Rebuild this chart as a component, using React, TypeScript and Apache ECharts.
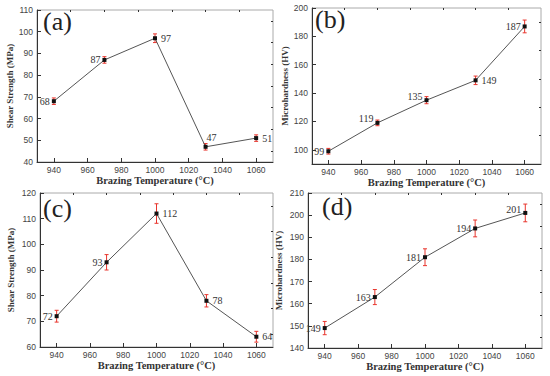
import React, { useEffect, useRef } from "react";
import * as echarts from "echarts";

const temps = [940, 970, 1000, 1030, 1060];
const shearA = [68, 87, 97, 47, 51];
const errA = [1.5, 1.5, 2, 1.5, 1.5];
const hardB = [99, 119, 135, 149, 187];
const errB = [2, 2, 2.5, 3, 4.5];
const shearC = [72, 93, 112, 78, 64];
const errC = [2.3, 3, 3.8, 2.4, 2.1];
const hardD = [149, 163, 181, 194, 201];
const errD = [3, 3.4, 3.8, 3.8, 4];

const xMajor = [940, 960, 980, 1000, 1020, 1040, 1060];
const xMinor = [950, 970, 990, 1010, 1030, 1050];
const yMajorA = [40, 50, 60, 70, 80, 90, 100, 110];
const yMinorA = [45, 55, 65, 75, 85, 95, 105];
const yMajorB = [100, 120, 140, 160, 180, 200];
const yMinorB = [90, 110, 130, 150, 170, 190];
const yMajorC = [60, 70, 80, 90, 100, 110, 120];
const yMinorC = [65, 75, 85, 95, 105, 115];
const yMajorD = [140, 150, 160, 170, 180, 190, 200, 210];
const yMinorD = [145, 155, 165, 175, 185, 195, 205];

const xTitle = "Brazing Temperature (°C)";
const shearTitle = "Shear Strength (MPa)";
const hardTitle = "Microhardness (HV)";
const panelLetters = ["(a)", "(b)", "(c)", "(d)"];

export default function App() {
  const ref = useRef<HTMLDivElement>(null);
  useEffect(() => {
    const chart = echarts.init(ref.current!, null, { renderer: "svg" });

    const panels = [
      { vals: shearA, errs: errA, yMajor: yMajorA, yMinor: yMinorA, yMin: 40, yMax: 110, yName: shearTitle, yGap: 22, xGap: 10,
        grid: { left: 37, top: 10, width: 236, height: 152 },
        pos: [["left", [0, 0]], ["left", [0, 0]], ["right", [0, 0]], ["top", [6, 2]], ["right", [0, 0]]],
        letter: [43, 8] },
      { vals: hardB, errs: errB, yMajor: yMajorB, yMinor: yMinorB, yMin: 90, yMax: 200, yName: hardTitle, yGap: 22, xGap: 10,
        grid: { left: 312, top: 8, width: 229, height: 156 },
        pos: [["left", [0, 0]], ["left", [0, -4]], ["left", [0, -4]], ["right", [0, 0]], ["left", [0, 0]]],
        letter: [315, 6] },
      { vals: shearC, errs: errC, yMajor: yMajorC, yMinor: yMinorC, yMin: 60, yMax: 120, yName: shearTitle, yGap: 25, xGap: 10,
        grid: { left: 40, top: 193, width: 233, height: 154 },
        pos: [["left", [0, 0]], ["left", [0, 0]], ["right", [0, 0]], ["right", [0, 0]], ["right", [0, 0]]],
        letter: [43, 195] },
      { vals: hardD, errs: errD, yMajor: yMajorD, yMinor: yMinorD, yMin: 140, yMax: 210, yName: hardTitle, yGap: 25, xGap: 10,
        grid: { left: 308, top: 193, width: 234, height: 155 },
        pos: [["left", [0, 0]], ["left", [0, 0]], ["left", [0, 0]], ["left", [0, 0]], ["left", [0, -3]]],
        letter: [322, 193] },
    ];

    const grids: any[] = [];
    const xAxes: any[] = [];
    const yAxes: any[] = [];
    const series: any[] = [];
    const graphics: any[] = [];

    const tickLabel = { fontFamily: "Liberation Sans", fontSize: 8.5, color: "#444", formatter: (v: number) => String(v) };
    const nameStyle = { fontFamily: "Liberation Serif", fontWeight: "bold", color: "#333" };

    panels.forEach((p, i) => {
      grids.push({ ...p.grid, show: true, borderColor: "#aaa", borderWidth: 1, backgroundColor: "transparent" });
      xAxes.push({
        type: "value", gridIndex: i, min: 930, max: 1070,
        axisLine: { show: true, lineStyle: { color: "#333", width: 1 } },
        axisTick: { show: true, inside: true, length: 4, customValues: xMajor, lineStyle: { color: "#333" } },
        axisLabel: { customValues: xMajor, margin: 3, ...tickLabel },
        splitLine: { show: false },
        name: xTitle, nameLocation: "middle", nameGap: p.xGap,
        nameTextStyle: { ...nameStyle, fontSize: 10.5, verticalAlign: "top" },
      });
      xAxes.push({
        type: "value", gridIndex: i, min: 930, max: 1070,
        axisLine: { show: false },
        axisTick: { show: true, inside: true, length: 2, customValues: xMinor, lineStyle: { color: "#333" } },
        axisLabel: { show: false },
        splitLine: { show: false },
      });
      yAxes.push({
        type: "value", gridIndex: i, min: p.yMin, max: p.yMax,
        axisLine: { show: true, lineStyle: { color: "#333", width: 1 } },
        axisTick: { show: true, inside: true, length: 4, customValues: p.yMajor, lineStyle: { color: "#333" } },
        axisLabel: { customValues: p.yMajor, margin: 4, ...tickLabel },
        splitLine: { show: false },
        name: p.yName, nameLocation: "middle", nameGap: p.yGap,
        nameTextStyle: { ...nameStyle, fontSize: 9 },
      });
      yAxes.push({
        type: "value", gridIndex: i, min: p.yMin, max: p.yMax,
        axisLine: { show: false },
        axisTick: { show: true, inside: true, length: 2, customValues: p.yMinor, lineStyle: { color: "#333" } },
        axisLabel: { show: false },
        splitLine: { show: false },
      });

      series.push({
        type: "line",
        xAxisIndex: i * 2, yAxisIndex: i * 2,
        data: temps.map((t, k) => ({
          value: [t, p.vals[k]],
          label: { position: p.pos[k][0], offset: p.pos[k][1], distance: p.pos[k][0] === "left" ? 2 : 4 },
        })),
        lineStyle: { color: "#555", width: 1 },
        itemStyle: { color: "#111" },
        symbol: "rect", symbolSize: 4,
        label: {
          show: true, formatter: (d: any) => String(d.value[1]),
          fontFamily: "Liberation Serif", fontSize: 10, color: "#333",
        },
        z: 3,
      });

      series.push({
        type: "custom",
        xAxisIndex: i * 2, yAxisIndex: i * 2,
        data: temps.map((t, k) => [t, p.vals[k] - p.errs[k], p.vals[k] + p.errs[k]]),
        renderItem: (params: any, api: any) => {
          const x = api.value(0);
          const lo = api.coord([x, api.value(1)]);
          const hi = api.coord([x, api.value(2)]);
          const cw = 2;
          const style = { stroke: "#e8342c", lineWidth: 1 };
          return {
            type: "group",
            children: [
              { type: "line", shape: { x1: lo[0], y1: lo[1], x2: hi[0], y2: hi[1] }, style },
              { type: "line", shape: { x1: lo[0] - cw, y1: lo[1], x2: lo[0] + cw, y2: lo[1] }, style },
              { type: "line", shape: { x1: hi[0] - cw, y1: hi[1], x2: hi[0] + cw, y2: hi[1] }, style },
            ],
          };
        },
        z: 2,
      });

      graphics.push({
        type: "text", left: p.letter[0], top: p.letter[1],
        style: { text: panelLetters[i], font: "26px 'Liberation Serif'", fill: "#222" },
      });
    });

    chart.setOption({
      animation: false,
      backgroundColor: "#fff",
      grid: grids,
      xAxis: xAxes,
      yAxis: yAxes,
      series,
      graphic: graphics,
    });
    return () => chart.dispose();
  }, []);

  return (
    <div
      ref={ref}
      style={{ position: "fixed", left: 0, top: 0, width: 550, height: 376, background: "#fff" }}
    />
  );
}
